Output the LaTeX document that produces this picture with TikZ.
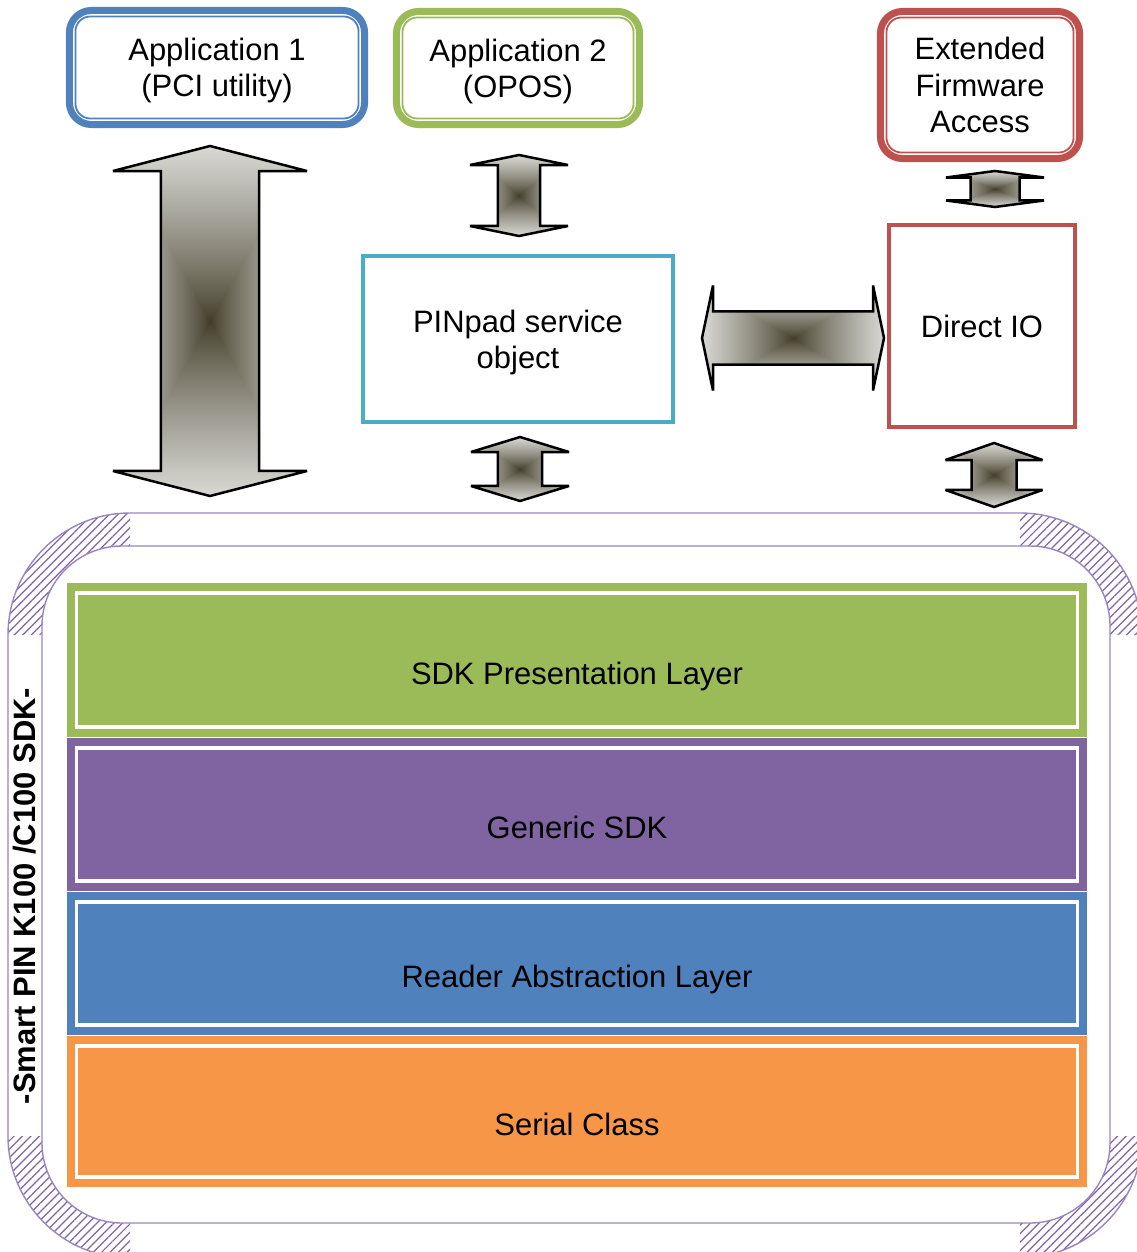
\documentclass[tikz,border=0pt]{standalone}
\usepackage{fontspec}
\setmainfont{Liberation Sans}
\usetikzlibrary{calc,patterns.meta}

\definecolor{appblue}{HTML}{4F81BD}
\definecolor{appgreen}{HTML}{9BBB59}
\definecolor{appred}{HTML}{C0504D}
\definecolor{svccyan}{HTML}{4BACC6}
\definecolor{sdkpurple}{HTML}{8064A2}
\definecolor{serialorange}{HTML}{F79646}
\definecolor{framepurple}{HTML}{9985C0}

% light edges, dark olive centre
\pgfdeclarefunctionalshading{rectglow}{\pgfpoint{-50bp}{-50bp}}{\pgfpoint{50bp}{50bp}}{}{
  abs exch abs 2 copy lt {exch} if pop
  25 div dup 1 gt {pop 1} if 0.8 exp
  dup 0.6 mul 0.25 add
  exch dup 0.62 mul 0.23 add
  exch 0.68 mul 0.15 add
}

\tikzset{
  txt/.style={font=\fontsize{8.8}{10.3}\selectfont, align=center},
  appbox/.style={txt, draw=#1, fill=white, line width=0.07cm, rounded corners=0.22cm,
    outer sep=0pt, inner sep=0pt, text depth=0pt},
  innerline/.style={draw=#1, line width=0.018cm, rounded corners=0.15cm},
  svcbox/.style={txt, draw=#1, fill=white, line width=0.045cm, outer sep=0pt, inner sep=0pt},
  layer/.style={txt, fill=#1, minimum width=10.2cm, outer sep=0pt, inner sep=0pt,
    text height=0.48cm, text depth=0pt},
  blockarrow/.style={shading=rectglow, draw=black, line width=0.025cm, miter limit=3},
  frameline/.style={draw=framepurple, line width=0.4pt},
  hatch/.style={pattern={Lines[angle=45,distance=0.06cm,line width=0.35pt]}, pattern color=sdkpurple}
}

% tips #1 and #2, shaft half width #3, head half width #4, head length #5
\newcommand\blockarrow[5]{%
  \shadedraw[blockarrow]
    (#1) -- ($(#1)!#5!(#2)!#4!90:(#2)$) -- ($(#1)!#5!(#2)!#3!90:(#2)$)
    -- ($(#2)!#5!(#1)!#3!-90:(#1)$) -- ($(#2)!#5!(#1)!#4!-90:(#1)$)
    -- (#2) -- ($(#2)!#5!(#1)!#4!90:(#1)$) -- ($(#2)!#5!(#1)!#3!90:(#1)$)
    -- ($(#1)!#5!(#2)!#3!-90:(#2)$) -- ($(#1)!#5!(#2)!#4!-90:(#2)$) -- cycle;}

\begin{document}
\begin{tikzpicture}[x=0.01cm, y=-0.01cm]
\useasboundingbox (0,0) rectangle (1136,1252);

% SDK frame
\begin{scope}
  \clip (8,513) rectangle (130,635) (1020,513) rectangle (1142,635)
        (8,1136) rectangle (130,1258) (1020,1136) rectangle (1142,1258);
  \fill[hatch, even odd rule] [rounded corners=1.22cm] (8,513) rectangle (1142,1258)
        [rounded corners=0.8cm] (42,546) rectangle (1110,1223);
\end{scope}
\draw[frameline, rounded corners=1.22cm] (8,513) rectangle (1142,1258);
\draw[frameline, rounded corners=0.8cm] (42,546) rectangle (1110,1223);
\node[rotate=90, font=\bfseries\fontsize{8.8}{10}\selectfont] (sdkname) at (25,896) {-Smart PIN K100 /C100 SDK-};

% layers
\node[layer=appgreen, minimum height=1.54cm] (sdk) at (577,660) {SDK Presentation Layer};
\node[layer=sdkpurple, minimum height=1.53cm] (gen) at (577,814.5) {Generic SDK};
\node[layer=appblue, minimum height=1.43cm] (ral) at (577,963.5) {Reader Abstraction Layer};
\node[layer=serialorange, minimum height=1.51cm] (ser) at (577,1111.5) {Serial Class};
\foreach \n in {sdk,gen,ral,ser}
  \draw[white, line width=0.035cm] ([shift={(0.1cm,-0.1cm)}]\n.north west) rectangle ([shift={(-0.1cm,0.1cm)}]\n.south east);

% applications
\node[appbox=appblue, minimum width=2.95cm, minimum height=1.14cm] (app1) at (217,67.5) {Application 1\\(PCI utility)};
\node[appbox=appgreen, minimum width=2.43cm, minimum height=1.13cm] (app2) at (518,68) {Application 2\\(OPOS)};
\node[appbox=appred, minimum width=1.99cm, minimum height=1.47cm] (efa) at (980,85) {Extended\\Firmware\\Access};
\foreach \n/\c in {app1/appblue, app2/appgreen, efa/appred}
  \draw[innerline=\c] ([shift={(0.06cm,-0.06cm)}]\n.north west) rectangle ([shift={(-0.06cm,0.06cm)}]\n.south east);

\node[svcbox=svccyan, minimum width=3.10cm, minimum height=1.66cm, text depth=0pt] (pso) at (518,339) {PINpad service\\object};
\node[svcbox=appred, minimum width=1.86cm, minimum height=2.02cm] (dio) at (982,326) {Direct IO};

% block arrows
\coordinate (pci-a) at (210,146);  \coordinate (pci-b) at (210,496);
\coordinate (opos-a) at (519,155); \coordinate (opos-b) at (519,236);
\coordinate (pso-a) at (520,437);  \coordinate (pso-b) at (520,501);
\coordinate (efa-a) at (995,171);  \coordinate (efa-b) at (995,207);
\coordinate (dio-a) at (994,443);  \coordinate (dio-b) at (994,507);
\coordinate (link-a) at (702,338); \coordinate (link-b) at (884,338);
\blockarrow{pci-a}{pci-b}{0.49cm}{0.97cm}{0.25cm}
\blockarrow{opos-a}{opos-b}{0.21cm}{0.49cm}{0.10cm}
\blockarrow{pso-a}{pso-b}{0.22cm}{0.49cm}{0.15cm}
\blockarrow{efa-a}{efa-b}{0.245cm}{0.49cm}{0.065cm}
\blockarrow{dio-a}{dio-b}{0.225cm}{0.485cm}{0.17cm}
\blockarrow{link-a}{link-b}{0.265cm}{0.525cm}{0.11cm}
\end{tikzpicture}
\end{document}
